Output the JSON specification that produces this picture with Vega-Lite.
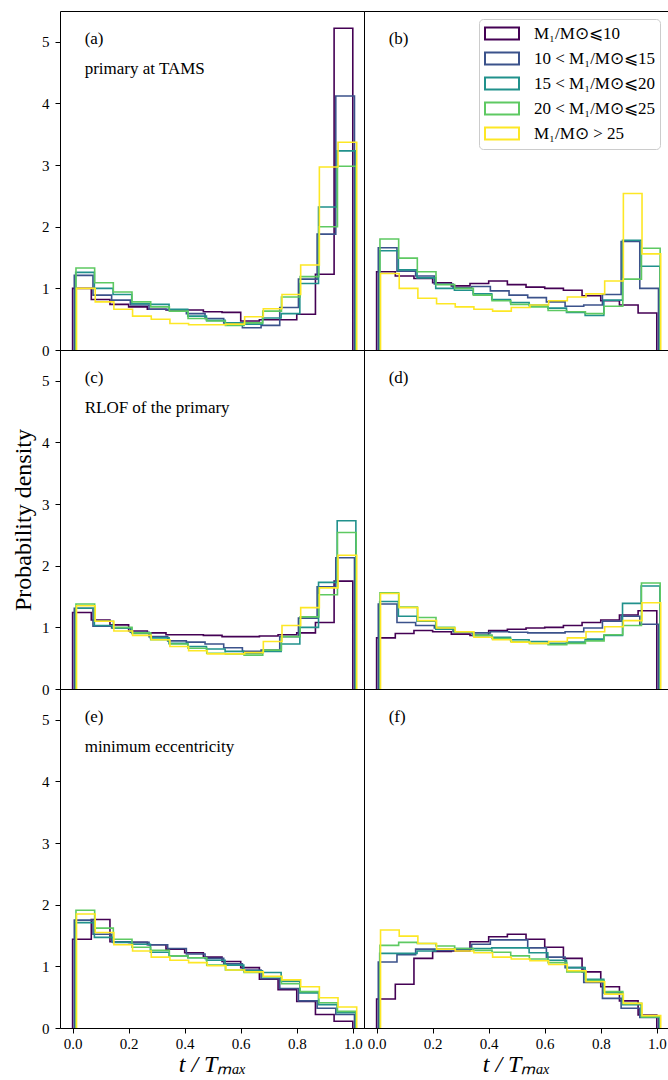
{
"$schema": "https://vega.github.io/schema/vega-lite/v6.json",
"padding": {"left": 11, "top": 10, "right": 0, "bottom": 5},
"datasets": {"h": [
{"p":"a","s":"k1","x":0,"y":0},{"p":"a","s":"k1","x":0,"y":1.00},{"p":"a","s":"k1","x":0.0667,"y":0.82},{"p":"a","s":"k1","x":0.1333,"y":0.74},{"p":"a","s":"k1","x":0.2,"y":0.70},{"p":"a","s":"k1","x":0.2667,"y":0.66},{"p":"a","s":"k1","x":0.3333,"y":0.65},{"p":"a","s":"k1","x":0.4,"y":0.65},{"p":"a","s":"k1","x":0.4667,"y":0.62},{"p":"a","s":"k1","x":0.5333,"y":0.61},{"p":"a","s":"k1","x":0.6,"y":0.47},{"p":"a","s":"k1","x":0.6667,"y":0.49},{"p":"a","s":"k1","x":0.7333,"y":0.49},{"p":"a","s":"k1","x":0.8,"y":0.58},{"p":"a","s":"k1","x":0.8667,"y":1.23},{"p":"a","s":"k1","x":0.9333,"y":5.22},{"p":"a","s":"k1","x":1,"y":0},
{"p":"a","s":"k2","x":0.006,"y":0},{"p":"a","s":"k2","x":0.006,"y":1.21},{"p":"a","s":"k2","x":0.0727,"y":0.89},{"p":"a","s":"k2","x":0.1393,"y":0.81},{"p":"a","s":"k2","x":0.206,"y":0.73},{"p":"a","s":"k2","x":0.2727,"y":0.66},{"p":"a","s":"k2","x":0.3393,"y":0.65},{"p":"a","s":"k2","x":0.406,"y":0.59},{"p":"a","s":"k2","x":0.4727,"y":0.51},{"p":"a","s":"k2","x":0.5393,"y":0.44},{"p":"a","s":"k2","x":0.606,"y":0.36},{"p":"a","s":"k2","x":0.6727,"y":0.40},{"p":"a","s":"k2","x":0.7393,"y":0.69},{"p":"a","s":"k2","x":0.806,"y":1.15},{"p":"a","s":"k2","x":0.8727,"y":1.88},{"p":"a","s":"k2","x":0.9393,"y":4.12},{"p":"a","s":"k2","x":1.006,"y":0},
{"p":"a","s":"k3","x":0.011,"y":0},{"p":"a","s":"k3","x":0.011,"y":1.26},{"p":"a","s":"k3","x":0.0777,"y":1.00},{"p":"a","s":"k3","x":0.1443,"y":0.90},{"p":"a","s":"k3","x":0.211,"y":0.75},{"p":"a","s":"k3","x":0.2777,"y":0.74},{"p":"a","s":"k3","x":0.3443,"y":0.66},{"p":"a","s":"k3","x":0.411,"y":0.55},{"p":"a","s":"k3","x":0.4777,"y":0.48},{"p":"a","s":"k3","x":0.5443,"y":0.44},{"p":"a","s":"k3","x":0.611,"y":0.42},{"p":"a","s":"k3","x":0.6777,"y":0.52},{"p":"a","s":"k3","x":0.7443,"y":0.59},{"p":"a","s":"k3","x":0.811,"y":1.08},{"p":"a","s":"k3","x":0.8777,"y":2.32},{"p":"a","s":"k3","x":0.9443,"y":3.23},{"p":"a","s":"k3","x":1.011,"y":0},
{"p":"a","s":"k4","x":0.012,"y":0},{"p":"a","s":"k4","x":0.012,"y":1.33},{"p":"a","s":"k4","x":0.0787,"y":1.09},{"p":"a","s":"k4","x":0.1453,"y":0.94},{"p":"a","s":"k4","x":0.212,"y":0.78},{"p":"a","s":"k4","x":0.2787,"y":0.70},{"p":"a","s":"k4","x":0.3453,"y":0.63},{"p":"a","s":"k4","x":0.412,"y":0.51},{"p":"a","s":"k4","x":0.4787,"y":0.47},{"p":"a","s":"k4","x":0.5453,"y":0.40},{"p":"a","s":"k4","x":0.612,"y":0.44},{"p":"a","s":"k4","x":0.6787,"y":0.63},{"p":"a","s":"k4","x":0.7453,"y":0.86},{"p":"a","s":"k4","x":0.812,"y":1.19},{"p":"a","s":"k4","x":0.8787,"y":2.00},{"p":"a","s":"k4","x":0.9453,"y":2.98},{"p":"a","s":"k4","x":1.012,"y":0},
{"p":"a","s":"k5","x":0.014,"y":0},{"p":"a","s":"k5","x":0.014,"y":1.00},{"p":"a","s":"k5","x":0.0807,"y":0.78},{"p":"a","s":"k5","x":0.1473,"y":0.66},{"p":"a","s":"k5","x":0.214,"y":0.55},{"p":"a","s":"k5","x":0.2807,"y":0.50},{"p":"a","s":"k5","x":0.3473,"y":0.43},{"p":"a","s":"k5","x":0.414,"y":0.41},{"p":"a","s":"k5","x":0.4807,"y":0.41},{"p":"a","s":"k5","x":0.5473,"y":0.42},{"p":"a","s":"k5","x":0.614,"y":0.54},{"p":"a","s":"k5","x":0.6807,"y":0.67},{"p":"a","s":"k5","x":0.7473,"y":0.90},{"p":"a","s":"k5","x":0.814,"y":1.38},{"p":"a","s":"k5","x":0.8807,"y":2.97},{"p":"a","s":"k5","x":0.9473,"y":3.37},{"p":"a","s":"k5","x":1.014,"y":0},

{"p":"b","s":"k1","x":0,"y":0},{"p":"b","s":"k1","x":0,"y":1.27},{"p":"b","s":"k1","x":0.0667,"y":1.20},{"p":"b","s":"k1","x":0.1333,"y":1.16},{"p":"b","s":"k1","x":0.2,"y":1.09},{"p":"b","s":"k1","x":0.2667,"y":1.04},{"p":"b","s":"k1","x":0.3333,"y":1.08},{"p":"b","s":"k1","x":0.4,"y":1.12},{"p":"b","s":"k1","x":0.4667,"y":1.06},{"p":"b","s":"k1","x":0.5333,"y":1.02},{"p":"b","s":"k1","x":0.6,"y":1.00},{"p":"b","s":"k1","x":0.6667,"y":0.97},{"p":"b","s":"k1","x":0.7333,"y":0.88},{"p":"b","s":"k1","x":0.8,"y":0.80},{"p":"b","s":"k1","x":0.8667,"y":0.73},{"p":"b","s":"k1","x":0.9333,"y":0.60},{"p":"b","s":"k1","x":1,"y":0},
{"p":"b","s":"k2","x":0.006,"y":0},{"p":"b","s":"k2","x":0.006,"y":1.66},{"p":"b","s":"k2","x":0.0727,"y":1.28},{"p":"b","s":"k2","x":0.1393,"y":1.20},{"p":"b","s":"k2","x":0.206,"y":1.07},{"p":"b","s":"k2","x":0.2727,"y":1.01},{"p":"b","s":"k2","x":0.3393,"y":1.03},{"p":"b","s":"k2","x":0.406,"y":0.96},{"p":"b","s":"k2","x":0.4727,"y":0.89},{"p":"b","s":"k2","x":0.5393,"y":0.85},{"p":"b","s":"k2","x":0.606,"y":0.78},{"p":"b","s":"k2","x":0.6727,"y":0.71},{"p":"b","s":"k2","x":0.7393,"y":0.73},{"p":"b","s":"k2","x":0.806,"y":0.90},{"p":"b","s":"k2","x":0.8727,"y":1.76},{"p":"b","s":"k2","x":0.9393,"y":1.00},{"p":"b","s":"k2","x":1.006,"y":0},
{"p":"b","s":"k3","x":0.011,"y":0},{"p":"b","s":"k3","x":0.011,"y":1.61},{"p":"b","s":"k3","x":0.0777,"y":1.30},{"p":"b","s":"k3","x":0.1443,"y":1.17},{"p":"b","s":"k3","x":0.211,"y":1.00},{"p":"b","s":"k3","x":0.2777,"y":0.97},{"p":"b","s":"k3","x":0.3443,"y":0.91},{"p":"b","s":"k3","x":0.411,"y":0.82},{"p":"b","s":"k3","x":0.4777,"y":0.77},{"p":"b","s":"k3","x":0.5443,"y":0.73},{"p":"b","s":"k3","x":0.611,"y":0.68},{"p":"b","s":"k3","x":0.6777,"y":0.61},{"p":"b","s":"k3","x":0.7443,"y":0.56},{"p":"b","s":"k3","x":0.811,"y":0.81},{"p":"b","s":"k3","x":0.8777,"y":1.78},{"p":"b","s":"k3","x":0.9443,"y":1.36},{"p":"b","s":"k3","x":1.011,"y":0},
{"p":"b","s":"k4","x":0.012,"y":0},{"p":"b","s":"k4","x":0.012,"y":1.80},{"p":"b","s":"k4","x":0.0787,"y":1.49},{"p":"b","s":"k4","x":0.1453,"y":1.27},{"p":"b","s":"k4","x":0.212,"y":1.06},{"p":"b","s":"k4","x":0.2787,"y":1.00},{"p":"b","s":"k4","x":0.3453,"y":0.89},{"p":"b","s":"k4","x":0.412,"y":0.80},{"p":"b","s":"k4","x":0.4787,"y":0.74},{"p":"b","s":"k4","x":0.5453,"y":0.70},{"p":"b","s":"k4","x":0.612,"y":0.64},{"p":"b","s":"k4","x":0.6787,"y":0.62},{"p":"b","s":"k4","x":0.7453,"y":0.59},{"p":"b","s":"k4","x":0.812,"y":0.71},{"p":"b","s":"k4","x":0.8787,"y":1.15},{"p":"b","s":"k4","x":0.9453,"y":1.65},{"p":"b","s":"k4","x":1.012,"y":0},
{"p":"b","s":"k5","x":0.014,"y":0},{"p":"b","s":"k5","x":0.014,"y":1.24},{"p":"b","s":"k5","x":0.0807,"y":1.00},{"p":"b","s":"k5","x":0.1473,"y":0.84},{"p":"b","s":"k5","x":0.214,"y":0.75},{"p":"b","s":"k5","x":0.2807,"y":0.70},{"p":"b","s":"k5","x":0.3473,"y":0.66},{"p":"b","s":"k5","x":0.414,"y":0.63},{"p":"b","s":"k5","x":0.4807,"y":0.69},{"p":"b","s":"k5","x":0.5473,"y":0.73},{"p":"b","s":"k5","x":0.614,"y":0.80},{"p":"b","s":"k5","x":0.6807,"y":0.86},{"p":"b","s":"k5","x":0.7473,"y":0.91},{"p":"b","s":"k5","x":0.814,"y":1.12},{"p":"b","s":"k5","x":0.8807,"y":2.54},{"p":"b","s":"k5","x":0.9473,"y":1.56},{"p":"b","s":"k5","x":1.014,"y":0},

{"p":"c","s":"k1","x":0,"y":0},{"p":"c","s":"k1","x":0,"y":1.24},{"p":"c","s":"k1","x":0.0667,"y":1.12},{"p":"c","s":"k1","x":0.1333,"y":1.04},{"p":"c","s":"k1","x":0.2,"y":0.94},{"p":"c","s":"k1","x":0.2667,"y":0.91},{"p":"c","s":"k1","x":0.3333,"y":0.88},{"p":"c","s":"k1","x":0.4,"y":0.88},{"p":"c","s":"k1","x":0.4667,"y":0.87},{"p":"c","s":"k1","x":0.5333,"y":0.85},{"p":"c","s":"k1","x":0.6,"y":0.85},{"p":"c","s":"k1","x":0.6667,"y":0.86},{"p":"c","s":"k1","x":0.7333,"y":0.88},{"p":"c","s":"k1","x":0.8,"y":0.91},{"p":"c","s":"k1","x":0.8667,"y":1.08},{"p":"c","s":"k1","x":0.9333,"y":1.75},{"p":"c","s":"k1","x":1,"y":0},
{"p":"c","s":"k2","x":0.006,"y":0},{"p":"c","s":"k2","x":0.006,"y":1.31},{"p":"c","s":"k2","x":0.0727,"y":1.02},{"p":"c","s":"k2","x":0.1393,"y":0.99},{"p":"c","s":"k2","x":0.206,"y":0.92},{"p":"c","s":"k2","x":0.2727,"y":0.85},{"p":"c","s":"k2","x":0.3393,"y":0.78},{"p":"c","s":"k2","x":0.406,"y":0.76},{"p":"c","s":"k2","x":0.4727,"y":0.73},{"p":"c","s":"k2","x":0.5393,"y":0.67},{"p":"c","s":"k2","x":0.606,"y":0.61},{"p":"c","s":"k2","x":0.6727,"y":0.63},{"p":"c","s":"k2","x":0.7393,"y":0.85},{"p":"c","s":"k2","x":0.806,"y":1.15},{"p":"c","s":"k2","x":0.8727,"y":1.66},{"p":"c","s":"k2","x":0.9393,"y":2.13},{"p":"c","s":"k2","x":1.006,"y":0},
{"p":"c","s":"k3","x":0.011,"y":0},{"p":"c","s":"k3","x":0.011,"y":1.31},{"p":"c","s":"k3","x":0.0777,"y":1.03},{"p":"c","s":"k3","x":0.1443,"y":0.99},{"p":"c","s":"k3","x":0.211,"y":0.90},{"p":"c","s":"k3","x":0.2777,"y":0.83},{"p":"c","s":"k3","x":0.3443,"y":0.74},{"p":"c","s":"k3","x":0.411,"y":0.69},{"p":"c","s":"k3","x":0.4777,"y":0.65},{"p":"c","s":"k3","x":0.5443,"y":0.61},{"p":"c","s":"k3","x":0.611,"y":0.58},{"p":"c","s":"k3","x":0.6777,"y":0.61},{"p":"c","s":"k3","x":0.7443,"y":0.73},{"p":"c","s":"k3","x":0.811,"y":1.00},{"p":"c","s":"k3","x":0.8777,"y":1.73},{"p":"c","s":"k3","x":0.9443,"y":2.73},{"p":"c","s":"k3","x":1.011,"y":0},
{"p":"c","s":"k4","x":0.012,"y":0},{"p":"c","s":"k4","x":0.012,"y":1.38},{"p":"c","s":"k4","x":0.0787,"y":1.10},{"p":"c","s":"k4","x":0.1453,"y":1.00},{"p":"c","s":"k4","x":0.212,"y":0.91},{"p":"c","s":"k4","x":0.2787,"y":0.80},{"p":"c","s":"k4","x":0.3453,"y":0.73},{"p":"c","s":"k4","x":0.412,"y":0.66},{"p":"c","s":"k4","x":0.4787,"y":0.58},{"p":"c","s":"k4","x":0.5453,"y":0.57},{"p":"c","s":"k4","x":0.612,"y":0.55},{"p":"c","s":"k4","x":0.6787,"y":0.63},{"p":"c","s":"k4","x":0.7453,"y":0.85},{"p":"c","s":"k4","x":0.812,"y":1.17},{"p":"c","s":"k4","x":0.8787,"y":1.53},{"p":"c","s":"k4","x":0.9453,"y":2.54},{"p":"c","s":"k4","x":1.012,"y":0},
{"p":"c","s":"k5","x":0.014,"y":0},{"p":"c","s":"k5","x":0.014,"y":1.35},{"p":"c","s":"k5","x":0.0807,"y":1.10},{"p":"c","s":"k5","x":0.1473,"y":0.94},{"p":"c","s":"k5","x":0.214,"y":0.87},{"p":"c","s":"k5","x":0.2807,"y":0.80},{"p":"c","s":"k5","x":0.3473,"y":0.69},{"p":"c","s":"k5","x":0.414,"y":0.62},{"p":"c","s":"k5","x":0.4807,"y":0.57},{"p":"c","s":"k5","x":0.5473,"y":0.57},{"p":"c","s":"k5","x":0.614,"y":0.59},{"p":"c","s":"k5","x":0.6807,"y":0.77},{"p":"c","s":"k5","x":0.7473,"y":1.03},{"p":"c","s":"k5","x":0.814,"y":1.32},{"p":"c","s":"k5","x":0.8807,"y":1.64},{"p":"c","s":"k5","x":0.9473,"y":2.17},{"p":"c","s":"k5","x":1.014,"y":0},

{"p":"d","s":"k1","x":0,"y":0},{"p":"d","s":"k1","x":0,"y":0.83},{"p":"d","s":"k1","x":0.0667,"y":0.90},{"p":"d","s":"k1","x":0.1333,"y":0.95},{"p":"d","s":"k1","x":0.2,"y":0.93},{"p":"d","s":"k1","x":0.2667,"y":0.89},{"p":"d","s":"k1","x":0.3333,"y":0.87},{"p":"d","s":"k1","x":0.4,"y":0.95},{"p":"d","s":"k1","x":0.4667,"y":0.97},{"p":"d","s":"k1","x":0.5333,"y":0.99},{"p":"d","s":"k1","x":0.6,"y":1.00},{"p":"d","s":"k1","x":0.6667,"y":1.03},{"p":"d","s":"k1","x":0.7333,"y":1.08},{"p":"d","s":"k1","x":0.8,"y":1.12},{"p":"d","s":"k1","x":0.8667,"y":1.20},{"p":"d","s":"k1","x":0.9333,"y":1.27},{"p":"d","s":"k1","x":1,"y":0},
{"p":"d","s":"k2","x":0.006,"y":0},{"p":"d","s":"k2","x":0.006,"y":1.38},{"p":"d","s":"k2","x":0.0727,"y":1.08},{"p":"d","s":"k2","x":0.1393,"y":1.03},{"p":"d","s":"k2","x":0.206,"y":0.99},{"p":"d","s":"k2","x":0.2727,"y":0.93},{"p":"d","s":"k2","x":0.3393,"y":0.91},{"p":"d","s":"k2","x":0.406,"y":0.93},{"p":"d","s":"k2","x":0.4727,"y":0.92},{"p":"d","s":"k2","x":0.5393,"y":0.91},{"p":"d","s":"k2","x":0.606,"y":0.91},{"p":"d","s":"k2","x":0.6727,"y":0.93},{"p":"d","s":"k2","x":0.7393,"y":0.99},{"p":"d","s":"k2","x":0.806,"y":1.10},{"p":"d","s":"k2","x":0.8727,"y":1.18},{"p":"d","s":"k2","x":0.9393,"y":1.05},{"p":"d","s":"k2","x":1.006,"y":0},
{"p":"d","s":"k3","x":0.011,"y":0},{"p":"d","s":"k3","x":0.011,"y":1.42},{"p":"d","s":"k3","x":0.0777,"y":1.18},{"p":"d","s":"k3","x":0.1443,"y":1.10},{"p":"d","s":"k3","x":0.211,"y":0.97},{"p":"d","s":"k3","x":0.2777,"y":0.93},{"p":"d","s":"k3","x":0.3443,"y":0.87},{"p":"d","s":"k3","x":0.411,"y":0.84},{"p":"d","s":"k3","x":0.4777,"y":0.80},{"p":"d","s":"k3","x":0.5443,"y":0.77},{"p":"d","s":"k3","x":0.611,"y":0.74},{"p":"d","s":"k3","x":0.6777,"y":0.76},{"p":"d","s":"k3","x":0.7443,"y":0.81},{"p":"d","s":"k3","x":0.811,"y":0.87},{"p":"d","s":"k3","x":0.8777,"y":1.39},{"p":"d","s":"k3","x":0.9443,"y":1.67},{"p":"d","s":"k3","x":1.011,"y":0},
{"p":"d","s":"k4","x":0.012,"y":0},{"p":"d","s":"k4","x":0.012,"y":1.56},{"p":"d","s":"k4","x":0.0787,"y":1.33},{"p":"d","s":"k4","x":0.1453,"y":1.16},{"p":"d","s":"k4","x":0.212,"y":1.00},{"p":"d","s":"k4","x":0.2787,"y":0.93},{"p":"d","s":"k4","x":0.3453,"y":0.87},{"p":"d","s":"k4","x":0.412,"y":0.82},{"p":"d","s":"k4","x":0.4787,"y":0.77},{"p":"d","s":"k4","x":0.5453,"y":0.74},{"p":"d","s":"k4","x":0.612,"y":0.72},{"p":"d","s":"k4","x":0.6787,"y":0.74},{"p":"d","s":"k4","x":0.7453,"y":0.78},{"p":"d","s":"k4","x":0.812,"y":0.88},{"p":"d","s":"k4","x":0.8787,"y":1.03},{"p":"d","s":"k4","x":0.9453,"y":1.72},{"p":"d","s":"k4","x":1.012,"y":0},
{"p":"d","s":"k5","x":0.014,"y":0},{"p":"d","s":"k5","x":0.014,"y":1.55},{"p":"d","s":"k5","x":0.0807,"y":1.32},{"p":"d","s":"k5","x":0.1473,"y":1.11},{"p":"d","s":"k5","x":0.214,"y":0.99},{"p":"d","s":"k5","x":0.2807,"y":0.93},{"p":"d","s":"k5","x":0.3473,"y":0.84},{"p":"d","s":"k5","x":0.414,"y":0.80},{"p":"d","s":"k5","x":0.4807,"y":0.76},{"p":"d","s":"k5","x":0.5473,"y":0.74},{"p":"d","s":"k5","x":0.614,"y":0.77},{"p":"d","s":"k5","x":0.6807,"y":0.83},{"p":"d","s":"k5","x":0.7473,"y":0.93},{"p":"d","s":"k5","x":0.814,"y":1.01},{"p":"d","s":"k5","x":0.8807,"y":1.11},{"p":"d","s":"k5","x":0.9473,"y":1.40},{"p":"d","s":"k5","x":1.014,"y":0},

{"p":"e","s":"k1","x":0,"y":0},{"p":"e","s":"k1","x":0,"y":1.44},{"p":"e","s":"k1","x":0.0667,"y":1.76},{"p":"e","s":"k1","x":0.1333,"y":1.40},{"p":"e","s":"k1","x":0.2,"y":1.39},{"p":"e","s":"k1","x":0.2667,"y":1.35},{"p":"e","s":"k1","x":0.3333,"y":1.28},{"p":"e","s":"k1","x":0.4,"y":1.22},{"p":"e","s":"k1","x":0.4667,"y":1.15},{"p":"e","s":"k1","x":0.5333,"y":1.08},{"p":"e","s":"k1","x":0.6,"y":0.98},{"p":"e","s":"k1","x":0.6667,"y":0.79},{"p":"e","s":"k1","x":0.7333,"y":0.62},{"p":"e","s":"k1","x":0.8,"y":0.43},{"p":"e","s":"k1","x":0.8667,"y":0.22},{"p":"e","s":"k1","x":0.9333,"y":0.11},{"p":"e","s":"k1","x":1,"y":0},
{"p":"e","s":"k2","x":0.006,"y":0},{"p":"e","s":"k2","x":0.006,"y":1.75},{"p":"e","s":"k2","x":0.0727,"y":1.52},{"p":"e","s":"k2","x":0.1393,"y":1.40},{"p":"e","s":"k2","x":0.206,"y":1.39},{"p":"e","s":"k2","x":0.2727,"y":1.35},{"p":"e","s":"k2","x":0.3393,"y":1.29},{"p":"e","s":"k2","x":0.406,"y":1.20},{"p":"e","s":"k2","x":0.4727,"y":1.13},{"p":"e","s":"k2","x":0.5393,"y":1.04},{"p":"e","s":"k2","x":0.606,"y":0.94},{"p":"e","s":"k2","x":0.6727,"y":0.80},{"p":"e","s":"k2","x":0.7393,"y":0.64},{"p":"e","s":"k2","x":0.806,"y":0.44},{"p":"e","s":"k2","x":0.8727,"y":0.32},{"p":"e","s":"k2","x":0.9393,"y":0.22},{"p":"e","s":"k2","x":1.006,"y":0},
{"p":"e","s":"k3","x":0.011,"y":0},{"p":"e","s":"k3","x":0.011,"y":1.71},{"p":"e","s":"k3","x":0.0777,"y":1.47},{"p":"e","s":"k3","x":0.1443,"y":1.39},{"p":"e","s":"k3","x":0.211,"y":1.36},{"p":"e","s":"k3","x":0.2777,"y":1.23},{"p":"e","s":"k3","x":0.3443,"y":1.17},{"p":"e","s":"k3","x":0.411,"y":1.14},{"p":"e","s":"k3","x":0.4777,"y":1.10},{"p":"e","s":"k3","x":0.5443,"y":1.02},{"p":"e","s":"k3","x":0.611,"y":0.93},{"p":"e","s":"k3","x":0.6777,"y":0.90},{"p":"e","s":"k3","x":0.7443,"y":0.76},{"p":"e","s":"k3","x":0.811,"y":0.57},{"p":"e","s":"k3","x":0.8777,"y":0.38},{"p":"e","s":"k3","x":0.9443,"y":0.25},{"p":"e","s":"k3","x":1.011,"y":0},
{"p":"e","s":"k4","x":0.012,"y":0},{"p":"e","s":"k4","x":0.012,"y":1.91},{"p":"e","s":"k4","x":0.0787,"y":1.62},{"p":"e","s":"k4","x":0.1453,"y":1.44},{"p":"e","s":"k4","x":0.212,"y":1.31},{"p":"e","s":"k4","x":0.2787,"y":1.26},{"p":"e","s":"k4","x":0.3453,"y":1.17},{"p":"e","s":"k4","x":0.412,"y":1.14},{"p":"e","s":"k4","x":0.4787,"y":1.02},{"p":"e","s":"k4","x":0.5453,"y":0.94},{"p":"e","s":"k4","x":0.612,"y":0.90},{"p":"e","s":"k4","x":0.6787,"y":0.83},{"p":"e","s":"k4","x":0.7453,"y":0.72},{"p":"e","s":"k4","x":0.812,"y":0.59},{"p":"e","s":"k4","x":0.8787,"y":0.41},{"p":"e","s":"k4","x":0.9453,"y":0.27},{"p":"e","s":"k4","x":1.012,"y":0},
{"p":"e","s":"k5","x":0.014,"y":0},{"p":"e","s":"k5","x":0.014,"y":1.85},{"p":"e","s":"k5","x":0.0807,"y":1.55},{"p":"e","s":"k5","x":0.1473,"y":1.35},{"p":"e","s":"k5","x":0.214,"y":1.25},{"p":"e","s":"k5","x":0.2807,"y":1.15},{"p":"e","s":"k5","x":0.3473,"y":1.10},{"p":"e","s":"k5","x":0.414,"y":1.06},{"p":"e","s":"k5","x":0.4807,"y":1.01},{"p":"e","s":"k5","x":0.5473,"y":0.94},{"p":"e","s":"k5","x":0.614,"y":0.91},{"p":"e","s":"k5","x":0.6807,"y":0.84},{"p":"e","s":"k5","x":0.7473,"y":0.78},{"p":"e","s":"k5","x":0.814,"y":0.67},{"p":"e","s":"k5","x":0.8807,"y":0.49},{"p":"e","s":"k5","x":0.9473,"y":0.34},{"p":"e","s":"k5","x":1.014,"y":0},

{"p":"f","s":"k1","x":0,"y":0},{"p":"f","s":"k1","x":0,"y":0.47},{"p":"f","s":"k1","x":0.0667,"y":0.71},{"p":"f","s":"k1","x":0.1333,"y":1.13},{"p":"f","s":"k1","x":0.2,"y":1.24},{"p":"f","s":"k1","x":0.2667,"y":1.25},{"p":"f","s":"k1","x":0.3333,"y":1.40},{"p":"f","s":"k1","x":0.4,"y":1.48},{"p":"f","s":"k1","x":0.4667,"y":1.52},{"p":"f","s":"k1","x":0.5333,"y":1.44},{"p":"f","s":"k1","x":0.6,"y":1.31},{"p":"f","s":"k1","x":0.6667,"y":1.13},{"p":"f","s":"k1","x":0.7333,"y":0.91},{"p":"f","s":"k1","x":0.8,"y":0.67},{"p":"f","s":"k1","x":0.8667,"y":0.44},{"p":"f","s":"k1","x":0.9333,"y":0.21},{"p":"f","s":"k1","x":1,"y":0},
{"p":"f","s":"k2","x":0.006,"y":0},{"p":"f","s":"k2","x":0.006,"y":1.07},{"p":"f","s":"k2","x":0.0727,"y":1.19},{"p":"f","s":"k2","x":0.1393,"y":1.28},{"p":"f","s":"k2","x":0.206,"y":1.26},{"p":"f","s":"k2","x":0.2727,"y":1.28},{"p":"f","s":"k2","x":0.3393,"y":1.36},{"p":"f","s":"k2","x":0.406,"y":1.43},{"p":"f","s":"k2","x":0.4727,"y":1.43},{"p":"f","s":"k2","x":0.5393,"y":1.30},{"p":"f","s":"k2","x":0.606,"y":1.15},{"p":"f","s":"k2","x":0.6727,"y":0.98},{"p":"f","s":"k2","x":0.7393,"y":0.74},{"p":"f","s":"k2","x":0.806,"y":0.48},{"p":"f","s":"k2","x":0.8727,"y":0.32},{"p":"f","s":"k2","x":0.9393,"y":0.17},{"p":"f","s":"k2","x":1.006,"y":0},
{"p":"f","s":"k3","x":0.011,"y":0},{"p":"f","s":"k3","x":0.011,"y":1.21},{"p":"f","s":"k3","x":0.0777,"y":1.21},{"p":"f","s":"k3","x":0.1443,"y":1.25},{"p":"f","s":"k3","x":0.211,"y":1.28},{"p":"f","s":"k3","x":0.2777,"y":1.29},{"p":"f","s":"k3","x":0.3443,"y":1.29},{"p":"f","s":"k3","x":0.411,"y":1.30},{"p":"f","s":"k3","x":0.4777,"y":1.30},{"p":"f","s":"k3","x":0.5443,"y":1.22},{"p":"f","s":"k3","x":0.611,"y":1.10},{"p":"f","s":"k3","x":0.6777,"y":0.98},{"p":"f","s":"k3","x":0.7443,"y":0.79},{"p":"f","s":"k3","x":0.811,"y":0.57},{"p":"f","s":"k3","x":0.8777,"y":0.38},{"p":"f","s":"k3","x":0.9443,"y":0.18},{"p":"f","s":"k3","x":1.011,"y":0},
{"p":"f","s":"k4","x":0.012,"y":0},{"p":"f","s":"k4","x":0.012,"y":1.34},{"p":"f","s":"k4","x":0.0787,"y":1.39},{"p":"f","s":"k4","x":0.1453,"y":1.37},{"p":"f","s":"k4","x":0.212,"y":1.33},{"p":"f","s":"k4","x":0.2787,"y":1.29},{"p":"f","s":"k4","x":0.3453,"y":1.26},{"p":"f","s":"k4","x":0.412,"y":1.23},{"p":"f","s":"k4","x":0.4787,"y":1.17},{"p":"f","s":"k4","x":0.5453,"y":1.12},{"p":"f","s":"k4","x":0.612,"y":1.06},{"p":"f","s":"k4","x":0.6787,"y":0.91},{"p":"f","s":"k4","x":0.7453,"y":0.77},{"p":"f","s":"k4","x":0.812,"y":0.59},{"p":"f","s":"k4","x":0.8787,"y":0.40},{"p":"f","s":"k4","x":0.9453,"y":0.18},{"p":"f","s":"k4","x":1.012,"y":0},
{"p":"f","s":"k5","x":0.014,"y":0},{"p":"f","s":"k5","x":0.014,"y":1.59},{"p":"f","s":"k5","x":0.0807,"y":1.49},{"p":"f","s":"k5","x":0.1473,"y":1.37},{"p":"f","s":"k5","x":0.214,"y":1.28},{"p":"f","s":"k5","x":0.2807,"y":1.25},{"p":"f","s":"k5","x":0.3473,"y":1.22},{"p":"f","s":"k5","x":0.414,"y":1.15},{"p":"f","s":"k5","x":0.4807,"y":1.12},{"p":"f","s":"k5","x":0.5473,"y":1.09},{"p":"f","s":"k5","x":0.614,"y":1.03},{"p":"f","s":"k5","x":0.6807,"y":0.93},{"p":"f","s":"k5","x":0.7473,"y":0.75},{"p":"f","s":"k5","x":0.814,"y":0.55},{"p":"f","s":"k5","x":0.8807,"y":0.40},{"p":"f","s":"k5","x":0.9473,"y":0.20},{"p":"f","s":"k5","x":1.014,"y":0}
]},
"config": {
  "font": "Liberation Serif",
  "view": {"stroke": "black", "strokeWidth": 1},
  "axis": {"domain": false, "grid": false, "tickColor": "black", "tickSize": 5, "tickWidth": 1, "labelColor": "black", "titleColor": "black", "labelFont": "Liberation Serif", "titleFont": "Liberation Serif", "titleFontWeight": "normal", "labelFontSize": 15, "titleFontSize": 24},
  "text": {"font": "Liberation Serif", "fontSize": 17, "color": "black", "align": "left", "baseline": "alphabetic"}
},
"resolve": {"scale": {"color": "independent"}, "legend": {"color": "independent"}},
"columns": 2,
"spacing": 0,
"bounds": "flush",
"concat": [
 {"width": 304, "height": 339, "layer": [
  {"data": {"name": "h"}, "transform": [{"filter": "datum.p == 'a'"}],
   "mark": {"type": "line", "interpolate": "step-after", "strokeWidth": 1.6},
   "encoding": {
    "x": {"field": "x", "type": "quantitative", "scale": {"domain": [-0.045, 1.04], "nice": false, "zero": false}, "axis": null},
    "y": {"field": "y", "type": "quantitative", "scale": {"domain": [0, 5.5], "nice": false}, "axis": {"values": [0,1,2,3,4,5], "format": "d", "labelPadding": 6, "title": "Probability density", "titlePadding": 6, "titleOpacity": 0}},
    "color": {"field": "s", "type": "nominal", "scale": {"domain": ["k1","k2","k3","k4","k5"], "range": ["#440154","#3b528b","#21918c","#5ec962","#fde725"]}, "legend": null}}},
  {"data": {"values": [{}]}, "mark": {"type": "text"}, "encoding": {"x": {"datum": 0.043, "type": "quantitative"}, "y": {"datum": 4.97, "type": "quantitative"}, "text": {"value": "(a)"}}},
  {"data": {"values": [{}]}, "mark": {"type": "text"}, "encoding": {"x": {"datum": 0.043, "type": "quantitative"}, "y": {"datum": 4.47, "type": "quantitative"}, "text": {"value": "primary at TAMS"}}}
 ]},
 {"width": 304, "height": 339, "layer": [
  {"data": {"name": "h"}, "transform": [{"filter": "datum.p == 'b'"}],
   "mark": {"type": "line", "interpolate": "step-after", "strokeWidth": 1.6},
   "encoding": {
    "x": {"field": "x", "type": "quantitative", "scale": {"domain": [-0.045, 1.04], "nice": false, "zero": false}, "axis": null},
    "y": {"field": "y", "type": "quantitative", "scale": {"domain": [0, 5.5], "nice": false}, "axis": null},
    "color": {"field": "s", "type": "nominal", "scale": {"domain": ["k1","k2","k3","k4","k5"], "range": ["#440154","#3b528b","#21918c","#5ec962","#fde725"]},
      "legend": {"orient": "top-right", "offset": 8, "title": null,
        "labelExpr": "datum.value == 'k1' ? 'M₁/M⊙⩽10' : datum.value == 'k2' ? '10 < M₁/M⊙⩽15' : datum.value == 'k3' ? '15 < M₁/M⊙⩽20' : datum.value == 'k4' ? '20 < M₁/M⊙⩽25' : 'M₁/M⊙ > 25'",
        "symbolType": "M-1,-0.7H3V0.7H-1Z", "symbolSize": 289, "symbolStrokeWidth": 2, "symbolFillColor": "transparent",
        "labelOffset": 31, "rowPadding": 4, "padding": 5, "strokeColor": "#cccccc", "fillColor": "white", "cornerRadius": 4,
        "labelFontSize": 17, "labelFont": "Liberation Serif", "labelColor": "black", "labelLimit": 300}}}},
  {"data": {"values": [{}]}, "mark": {"type": "text"}, "encoding": {"x": {"datum": 0.043, "type": "quantitative"}, "y": {"datum": 4.97, "type": "quantitative"}, "text": {"value": "(b)"}}}
 ]},
 {"width": 304, "height": 339, "layer": [
  {"data": {"name": "h"}, "transform": [{"filter": "datum.p == 'c'"}],
   "mark": {"type": "line", "interpolate": "step-after", "strokeWidth": 1.6},
   "encoding": {
    "x": {"field": "x", "type": "quantitative", "scale": {"domain": [-0.045, 1.04], "nice": false, "zero": false}, "axis": null},
    "y": {"field": "y", "type": "quantitative", "scale": {"domain": [0, 5.5], "nice": false}, "axis": {"values": [0,1,2,3,4,5], "format": "d", "labelPadding": 6, "title": "Probability density", "titlePadding": 6}},
    "color": {"field": "s", "type": "nominal", "scale": {"domain": ["k1","k2","k3","k4","k5"], "range": ["#440154","#3b528b","#21918c","#5ec962","#fde725"]}, "legend": null}}},
  {"data": {"values": [{}]}, "mark": {"type": "text"}, "encoding": {"x": {"datum": 0.043, "type": "quantitative"}, "y": {"datum": 4.97, "type": "quantitative"}, "text": {"value": "(c)"}}},
  {"data": {"values": [{}]}, "mark": {"type": "text"}, "encoding": {"x": {"datum": 0.043, "type": "quantitative"}, "y": {"datum": 4.47, "type": "quantitative"}, "text": {"value": "RLOF of the primary"}}}
 ]},
 {"width": 304, "height": 339, "layer": [
  {"data": {"name": "h"}, "transform": [{"filter": "datum.p == 'd'"}],
   "mark": {"type": "line", "interpolate": "step-after", "strokeWidth": 1.6},
   "encoding": {
    "x": {"field": "x", "type": "quantitative", "scale": {"domain": [-0.045, 1.04], "nice": false, "zero": false}, "axis": null},
    "y": {"field": "y", "type": "quantitative", "scale": {"domain": [0, 5.5], "nice": false}, "axis": null},
    "color": {"field": "s", "type": "nominal", "scale": {"domain": ["k1","k2","k3","k4","k5"], "range": ["#440154","#3b528b","#21918c","#5ec962","#fde725"]}, "legend": null}}},
  {"data": {"values": [{}]}, "mark": {"type": "text"}, "encoding": {"x": {"datum": 0.043, "type": "quantitative"}, "y": {"datum": 4.97, "type": "quantitative"}, "text": {"value": "(d)"}}}
 ]},
 {"width": 304, "height": 339, "layer": [
  {"data": {"name": "h"}, "transform": [{"filter": "datum.p == 'e'"}],
   "mark": {"type": "line", "interpolate": "step-after", "strokeWidth": 1.6},
   "encoding": {
    "x": {"field": "x", "type": "quantitative", "scale": {"domain": [-0.045, 1.04], "nice": false, "zero": false}, "axis": {"values": [0,0.2,0.4,0.6,0.8,1], "format": ".1f", "labelPadding": 3, "labelFlush": false, "title": "t / Tₘₐₓ", "titleFontStyle": "italic", "titlePadding": 1}},
    "y": {"field": "y", "type": "quantitative", "scale": {"domain": [0, 5.5], "nice": false}, "axis": {"values": [0,1,2,3,4,5], "format": "d", "labelPadding": 6, "title": "Probability density", "titlePadding": 6, "titleOpacity": 0}},
    "color": {"field": "s", "type": "nominal", "scale": {"domain": ["k1","k2","k3","k4","k5"], "range": ["#440154","#3b528b","#21918c","#5ec962","#fde725"]}, "legend": null}}},
  {"data": {"values": [{}]}, "mark": {"type": "text"}, "encoding": {"x": {"datum": 0.043, "type": "quantitative"}, "y": {"datum": 4.97, "type": "quantitative"}, "text": {"value": "(e)"}}},
  {"data": {"values": [{}]}, "mark": {"type": "text"}, "encoding": {"x": {"datum": 0.043, "type": "quantitative"}, "y": {"datum": 4.47, "type": "quantitative"}, "text": {"value": "minimum eccentricity"}}}
 ]},
 {"width": 304, "height": 339, "layer": [
  {"data": {"name": "h"}, "transform": [{"filter": "datum.p == 'f'"}],
   "mark": {"type": "line", "interpolate": "step-after", "strokeWidth": 1.6},
   "encoding": {
    "x": {"field": "x", "type": "quantitative", "scale": {"domain": [-0.045, 1.04], "nice": false, "zero": false}, "axis": {"values": [0,0.2,0.4,0.6,0.8,1], "format": ".1f", "labelPadding": 3, "labelFlush": false, "title": "t / Tₘₐₓ", "titleFontStyle": "italic", "titlePadding": 1}},
    "y": {"field": "y", "type": "quantitative", "scale": {"domain": [0, 5.5], "nice": false}, "axis": null},
    "color": {"field": "s", "type": "nominal", "scale": {"domain": ["k1","k2","k3","k4","k5"], "range": ["#440154","#3b528b","#21918c","#5ec962","#fde725"]}, "legend": null}}},
  {"data": {"values": [{}]}, "mark": {"type": "text"}, "encoding": {"x": {"datum": 0.043, "type": "quantitative"}, "y": {"datum": 4.97, "type": "quantitative"}, "text": {"value": "(f)"}}}
 ]}
]
}
